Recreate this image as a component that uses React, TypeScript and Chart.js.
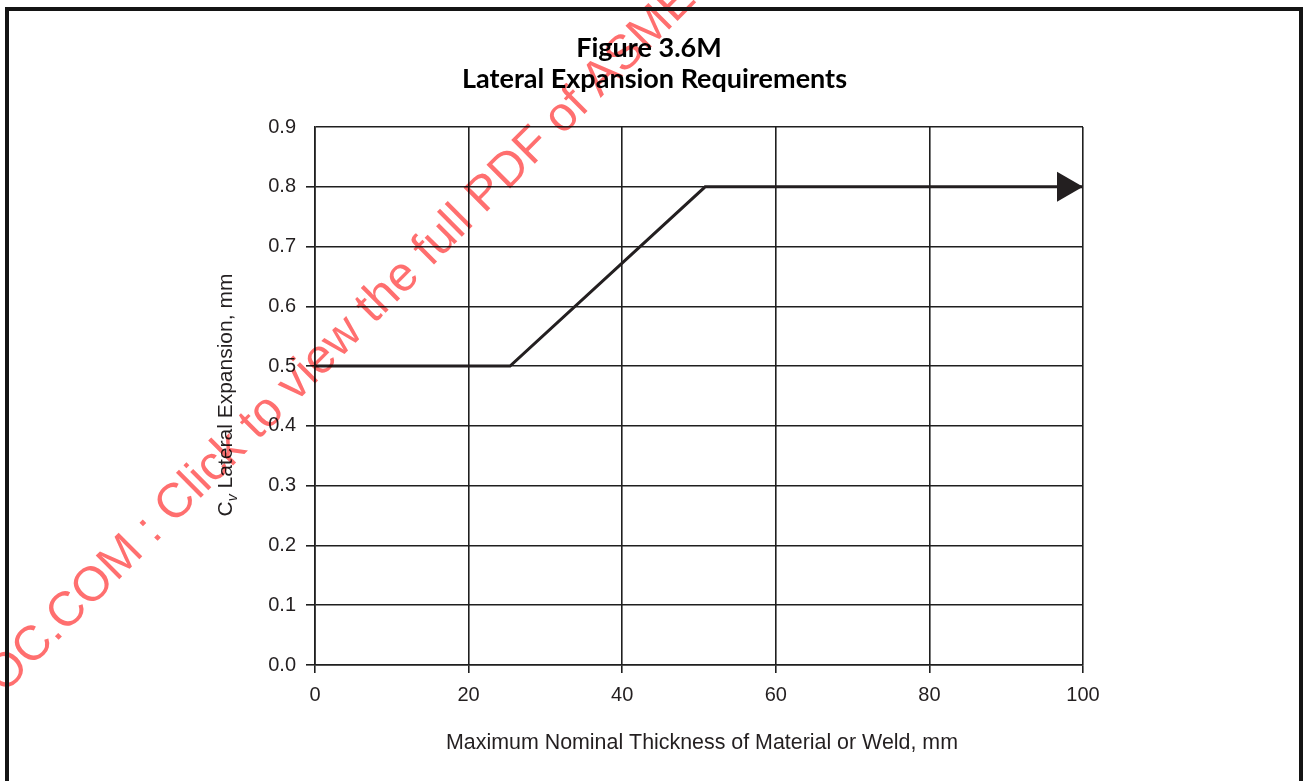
import React, { useEffect, useRef } from "react";
import { Chart, registerables } from "chart.js";

Chart.register(...registerables);

const thicknessMm = [0, 25.4, 50.8, 100];
const lateralExpansionMm = [0.5, 0.5, 0.8, 0.8];
const xTickStep = 20;
const yTickStep = 0.1;
const xRange = [0, 100];
const yRange = [0, 0.9];

const titleLines = ["Figure 3.6M", "Lateral Expansion Requirements"];
const xTitle = "Maximum Nominal Thickness of Material or Weld, mm";
const yTitleMain = "C";
const yTitleSub = "v";
const yTitleRest = " Lateral Expansion, mm";
const watermarkHead = "ASMENORMDOC";
const watermarkTail = ".COM : Click to view the full PDF of ASME BPVC.VIII.2 2021";

const INK = "#231f20";
const GRID = "#1f1f1f";
const SANS = '"Liberation Sans", Arial, Helvetica, sans-serif';

const decorPlugin = {
  id: "decor",
  afterDraw(chart: any) {
    const ctx = chart.ctx as CanvasRenderingContext2D;
    const area = chart.chartArea;
    const cx = (area.left + area.right) / 2;
    const cy = (area.top + area.bottom) / 2;

    // arrow head at the end of the line
    const meta = chart.getDatasetMeta(0);
    const last = meta.data[meta.data.length - 1];
    ctx.save();
    ctx.fillStyle = INK;
    ctx.beginPath();
    ctx.moveTo(last.x, last.y);
    ctx.lineTo(last.x - 26, last.y - 15);
    ctx.lineTo(last.x - 26, last.y + 15);
    ctx.closePath();
    ctx.fill();
    ctx.restore();

    // figure title
    ctx.save();
    ctx.fillStyle = "#000";
    ctx.textAlign = "center";
    ctx.textBaseline = "alphabetic";
    ctx.font = 'bold 27px Lato, "Open Sans", sans-serif';
    ctx.fillText(titleLines[0], 649, 57);
    ctx.fillText(titleLines[1], 654.5, 88);
    ctx.restore();

    // x axis title
    ctx.save();
    ctx.fillStyle = INK;
    ctx.font = "21.4px " + SANS;
    ctx.textAlign = "center";
    ctx.textBaseline = "alphabetic";
    ctx.fillText(xTitle, cx + 3, area.bottom + 84);
    ctx.restore();

    // y axis title with subscript
    ctx.save();
    ctx.fillStyle = INK;
    ctx.translate(area.left - 83, cy - 1);
    ctx.rotate(-Math.PI / 2);
    ctx.textBaseline = "alphabetic";
    ctx.textAlign = "left";
    ctx.font = "21px " + SANS;
    const wC = ctx.measureText(yTitleMain).width;
    const wRest = ctx.measureText(yTitleRest).width;
    ctx.font = "italic 14px " + SANS;
    const wV = ctx.measureText(yTitleSub).width;
    let x0 = -(wC + wV + wRest) / 2;
    ctx.font = "21px " + SANS;
    ctx.fillText(yTitleMain, x0, 0);
    x0 += wC;
    ctx.font = "italic 14px " + SANS;
    ctx.fillText(yTitleSub, x0, 5);
    x0 += wV;
    ctx.font = "21px " + SANS;
    ctx.fillText(yTitleRest, x0, 0);
    ctx.restore();

    // watermark
    ctx.save();
    ctx.globalCompositeOperation = "multiply";
    ctx.fillStyle = "#ff6f6f";
    ctx.font = "48.5px " + SANS;
    ctx.translate(55.5, 643);
    ctx.rotate(-Math.PI / 4);
    ctx.textBaseline = "alphabetic";
    ctx.textAlign = "right";
    ctx.fillText(watermarkHead, 0, 0);
    ctx.textAlign = "left";
    ctx.fillText(watermarkTail, 0, 0);
    ctx.restore();
  },
};

export default function App() {
  const canvasRef = useRef<HTMLCanvasElement | null>(null);

  useEffect(() => {
    if (!canvasRef.current) return;
    const chart = new Chart(canvasRef.current, {
      type: "scatter",
      data: {
        datasets: [
          {
            data: thicknessMm.map((x, i) => ({ x, y: lateralExpansionMm[i] })),
            showLine: true,
            borderColor: INK,
            borderWidth: 3,
            pointRadius: 0,
            tension: 0,
            fill: false,
          },
        ],
      },
      options: {
        animation: false,
        responsive: false,
        maintainAspectRatio: false,
        devicePixelRatio: 1,
        layout: { padding: { left: 0, top: 127, right: 220, bottom: 0 } },
        plugins: {
          legend: { display: false },
          tooltip: { enabled: false },
          title: { display: false },
        },
        scales: {
          x: {
            type: "linear",
            min: xRange[0],
            max: xRange[1],
            afterFit(scale: any) {
              scale.height = 116;
            },
            ticks: {
              stepSize: xTickStep,
              color: INK,
              padding: 10,
              font: { family: SANS, size: 20 },
              maxRotation: 0,
            },
            grid: {
              color: GRID,
              lineWidth: 1.6,
              tickLength: 8,
              tickColor: GRID,
            },
            border: { display: true, color: GRID, width: 1.6 },
          },
          y: {
            type: "linear",
            min: yRange[0],
            max: yRange[1],
            afterFit(scale: any) {
              scale.width = 315;
            },
            ticks: {
              stepSize: yTickStep,
              color: INK,
              padding: 10,
              font: { family: SANS, size: 20 },
              callback: (v: any) => Number(v).toFixed(1),
            },
            grid: {
              color: GRID,
              lineWidth: 1.6,
              tickLength: 9,
              tickColor: (c: any) =>
                c.tick && Math.abs(c.tick.value - yRange[1]) < 1e-6 ? "rgba(0,0,0,0)" : GRID,
            },
            border: { display: true, color: GRID, width: 1.6 },
          },
        },
      },
      plugins: [decorPlugin],
    });
    return () => chart.destroy();
  }, []);

  return (
    <div
      style={{
        position: "absolute",
        left: 0,
        top: 0,
        width: 1303,
        height: 781,
        overflow: "hidden",
        background: "#fff",
      }}
    >
      <canvas
        ref={canvasRef}
        width={1303}
        height={781}
        style={{ position: "absolute", left: 0, top: 0, width: 1303, height: 781 }}
      />
      <div
        style={{
          position: "absolute",
          left: 5,
          top: 7,
          width: 1298,
          height: 820,
          boxSizing: "border-box",
          border: "4px solid #141414",
          pointerEvents: "none",
        }}
      />
    </div>
  );
}
